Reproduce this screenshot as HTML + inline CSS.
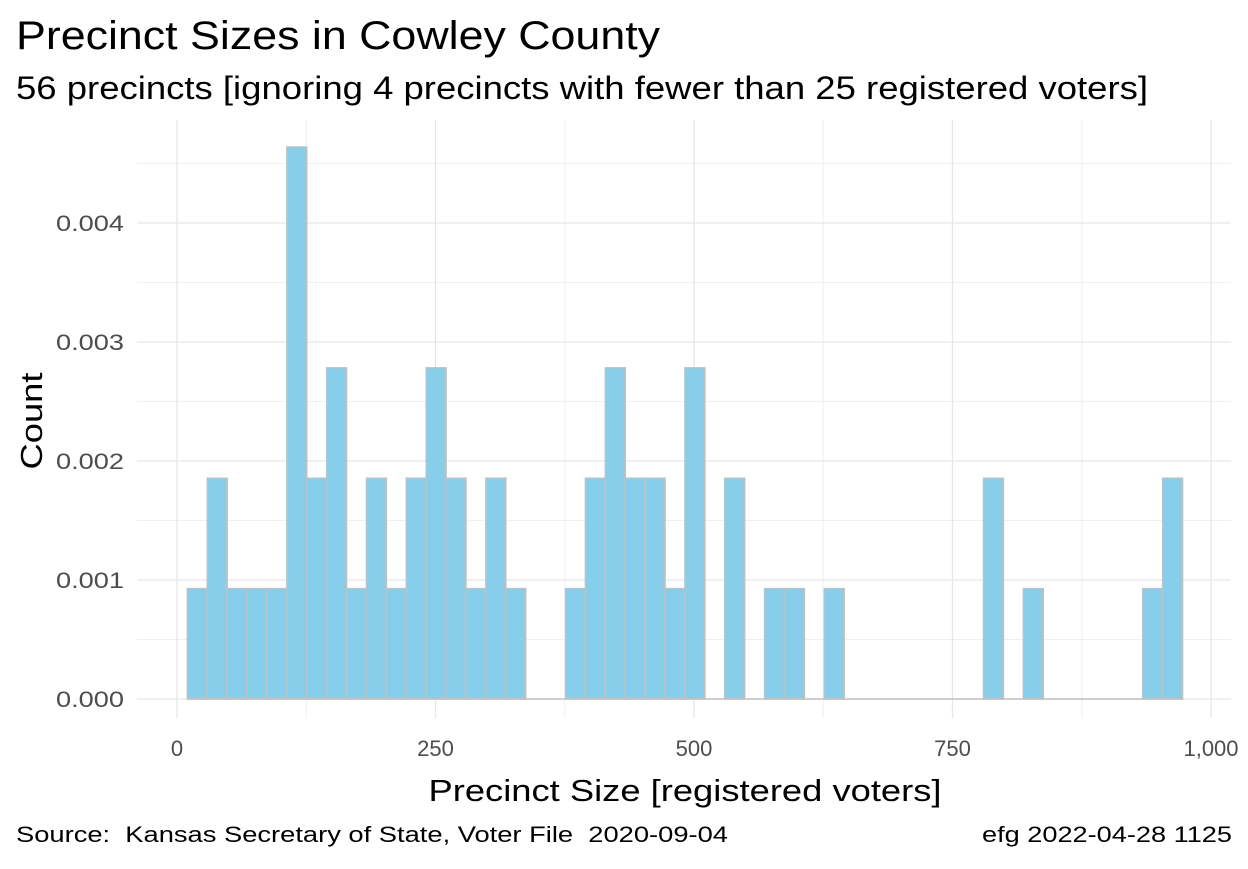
<!DOCTYPE html>
<html><head><meta charset="utf-8">
<style>
body{margin:0;background:#fff;}
svg text{font-family:"Liberation Sans",Arial,sans-serif;white-space:pre;}
</style></head>
<body>
<svg id="chart" width="1248" height="864" xmlns="http://www.w3.org/2000/svg">
<text x="16" y="49" font-size="40" textLength="644" lengthAdjust="spacingAndGlyphs" fill="#000">Precinct Sizes in Cowley County</text>
<text x="16" y="99" font-size="32" textLength="1132" lengthAdjust="spacingAndGlyphs" fill="#000">56 precincts [ignoring 4 precincts with fewer than 25 registered voters]</text>
<g id="grid"></g>
<g id="bars"></g>
<g id="ticks"></g>
<text x="685" y="801" font-size="31" text-anchor="middle" textLength="513" lengthAdjust="spacingAndGlyphs" fill="#000">Precinct Size [registered voters]</text>
<text transform="translate(42,421) rotate(-90)" font-size="31" text-anchor="middle" textLength="97" lengthAdjust="spacingAndGlyphs" fill="#000">Count</text>
<text x="16" y="842" font-size="22" textLength="712" lengthAdjust="spacingAndGlyphs" fill="#000">Source:  Kansas Secretary of State, Voter File  2020-09-04</text>
<text x="1232" y="842" font-size="22" text-anchor="end" textLength="250" lengthAdjust="spacingAndGlyphs" fill="#000">efg 2022-04-28 1125</text>
</svg>
<script>
const binStart = 10;
const binWidth = 19.25;
const totalN = 56;
const counts = [1,2,1,1,1,5,2,3,1,2,1,2,3,2,1,2,1,0,0,1,2,3,2,2,1,3,0,2,0,1,1,0,1,0,0,0,0,0,0,0,2,0,1,0,0,0,0,0,1,2];
const xTicks = [0,250,500,750,1000];
const xTickLabels = ["0","250","500","750","1,000"];
const yTicks = [0,0.001,0.002,0.003,0.004];
const yTickLabels = ["0.000","0.001","0.002","0.003","0.004"];

const NS="http://www.w3.org/2000/svg";
const X = v => 177 + v*1.034;
const Y = v => 699 - v*119000;
const pl=137, pr=1231, pt=120, pb=718;
const grid=document.getElementById('grid');
const bars=document.getElementById('bars');
const ticks=document.getElementById('ticks');
function line(p,x1,y1,x2,y2,c,w){const l=document.createElementNS(NS,'line');l.setAttribute('x1',x1);l.setAttribute('y1',y1);l.setAttribute('x2',x2);l.setAttribute('y2',y2);l.setAttribute('stroke',c);l.setAttribute('stroke-width',w);p.appendChild(l);return l;}
for(let i=0;i<xTicks.length-1;i++){const m=(xTicks[i]+xTicks[i+1])/2;const l=line(grid,X(m),pt,X(m),pb,'#f0f0f0',1);

}
for(let i=0;i<yTicks.length;i++){const m=yTicks[i]+0.0005;const l=line(grid,pl,Y(m),pr,Y(m),'#f0f0f0',1);

}
xTicks.forEach((t,i)=>{const l=line(grid,X(t),pt,X(t),pb,'#e6e6e6',1.3);


const tx=document.createElementNS(NS,'text');tx.setAttribute('x',X(t));tx.setAttribute('y',pb+38);tx.setAttribute('font-size','22');tx.setAttribute('fill','#4d4d4d');tx.setAttribute('text-anchor','middle');tx.textContent=xTickLabels[i];


ticks.appendChild(tx);});
yTicks.forEach((t,i)=>{const l=line(grid,pl,Y(t),pr,Y(t),'#e6e6e6',1.3);


const tx=document.createElementNS(NS,'text');tx.setAttribute('x',124);tx.setAttribute('y',Y(t)+8);tx.setAttribute('font-size','22');tx.setAttribute('textLength','68');tx.setAttribute('lengthAdjust','spacingAndGlyphs');tx.setAttribute('fill','#4d4d4d');tx.setAttribute('text-anchor','end');tx.textContent=yTickLabels[i];


ticks.appendChild(tx);});
counts.forEach((c,i)=>{if(c===0)return;const d=c/(totalN*binWidth);const x0=X(binStart+i*binWidth),x1=X(binStart+(i+1)*binWidth);
const r=document.createElementNS(NS,'rect');r.setAttribute('x',x0);r.setAttribute('width',x1-x0);r.setAttribute('y',Y(d));r.setAttribute('height',Y(0)-Y(d));r.setAttribute('fill','#87ceeb');r.setAttribute('stroke','#c0c0c0');r.setAttribute('stroke-width','1.5');


bars.appendChild(r);});
const base=line(bars,X(binStart),Y(0),X(binStart+counts.length*binWidth),Y(0),'#c0c0c0',1.5);


</script>
</body></html>
